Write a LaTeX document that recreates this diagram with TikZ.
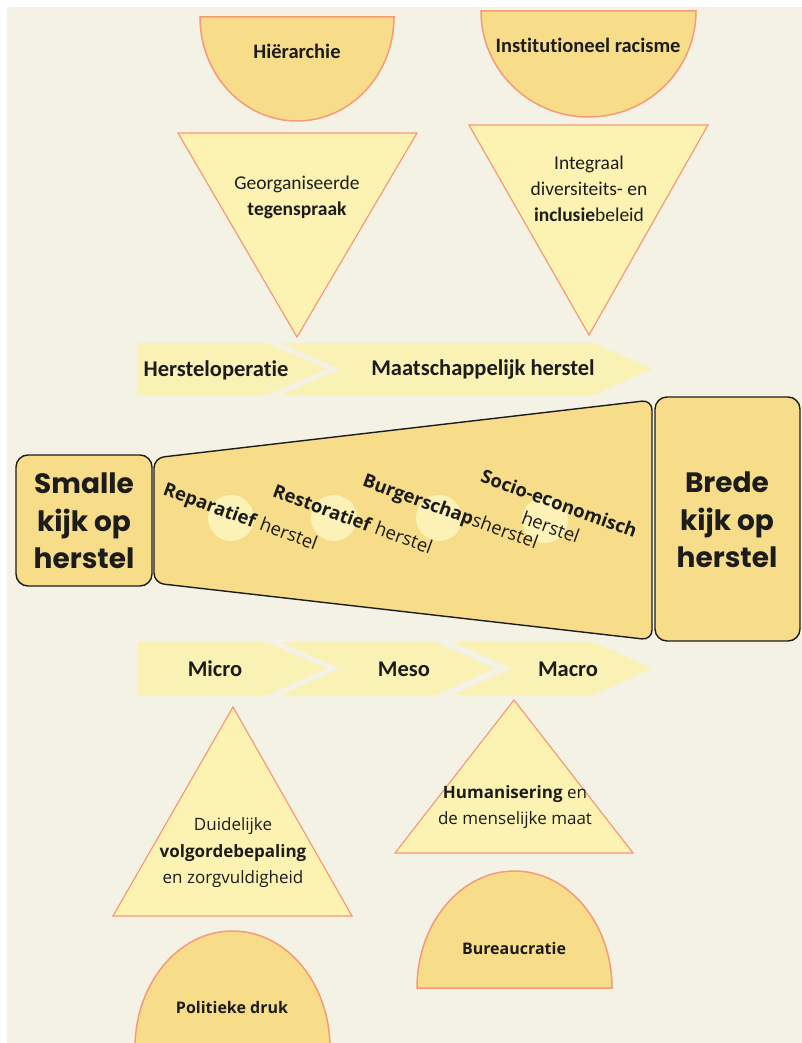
\documentclass[tikz,border=0pt]{standalone}
\usepackage{fontspec}
\setmainfont{Carlito}[Ligatures=NoCommon]
\newfontfamily\opensans{Open Sans}
\newfontfamily\poppins{Poppins}
\definecolor{creambg}{HTML}{F4F1E5}
\definecolor{domefill}{HTML}{F7DD8A}
\definecolor{trifill}{HTML}{FCF3B3}
\definecolor{salmon}{HTML}{F69A78}
\definecolor{bandfill}{HTML}{FAF2B5}
\definecolor{glowcol}{HTML}{FCF2B8}
\definecolor{ink}{HTML}{1C1C1C}
\begin{document}
\begin{tikzpicture}[x=1pt,y=1pt,
        dome/.style={draw=salmon,fill=domefill,line width=1.5pt},
        tri/.style={draw=salmon,fill=trifill,line width=1.2pt},
        band/.style={fill=bandfill},
        boxed/.style={draw=ink,fill=domefill,line width=1.4pt,rounded corners=12pt},
        glow/.style={fill=glowcol},
        domelbl/.style={inner sep=0,text=ink,font=\bfseries\fontsize{20.5}{24}\selectfont},
        bandlbl/.style={inner sep=0,text=ink,font=\bfseries\fontsize{22.5}{25}\selectfont},
        trilbl/.style={inner sep=0,text=ink,align=center,font=\fontsize{19.5}{26}\selectfont},
        lowlbl/.style={inner sep=0,text=ink,align=center,font=\opensans\fontsize{17}{26.5}\selectfont},
        bigbox/.style={inner sep=0,text=ink,align=center,font=\poppins\bfseries\fontsize{28}{37.5}\selectfont},
        slant/.style={inner sep=0,text=ink,rotate=-20,align=center,font=\opensans\fontsize{18.5}{25}\selectfont}
      ]
      \useasboundingbox (0,0) rectangle (802,-1043);
      \fill[white] (0,0) rectangle (802,-1043);
      \fill[creambg] (7,-7) rectangle (802,-1043);

      \draw[dome] (200,-17) -- (394,-17) arc[start angle=0,end angle=-180,x radius=97,y radius=104] -- cycle;
      \draw[dome] (481,-11) -- (696,-11) arc[start angle=0,end angle=-180,x radius=107.5,y radius=106] -- cycle;
      \node[domelbl] (hierarchie) at (297,-51) {Hiërarchie};
      \node[domelbl] (racisme) at (588,-45) {Institutioneel racisme};

      \draw[tri] (178,-133) -- (417,-133) -- (297,-337) -- cycle;
      \draw[tri] (469,-125) -- (708,-125) -- (589,-335) -- cycle;
      \node[trilbl] (tegenspraak) at (297,-197) {Georganiseerde\\\textbf{tegenspraak}};
      \node[trilbl] (beleid) at (589,-189) {Integraal\\diversiteits- en\\\textbf{inclusie}beleid};

      \fill[band] (137,-343) -- (266,-343) -- (327,-369) -- (266,-395) -- (137,-395) -- cycle;
      \fill[band] (281,-343) -- (593,-343) -- (652,-369) -- (593,-395) -- (281,-395) -- (340,-369) -- cycle;
      \node[bandlbl] (herstelop) at (216,-370) {Hersteloperatie};
      \node[bandlbl] (maatsch) at (483,-370) {Maatschappelijk herstel};

      \draw[boxed] (16,-455) rectangle (152,-586);
      \draw[boxed,rounded corners=10pt] (154,-458) -- (652,-400) -- (652,-640) -- (154,-583) -- cycle;
      \draw[boxed] (655,-397) rectangle (800,-641);
      \node[bigbox] (smalle) at (84,-521) {Smalle\\kijk op\\herstel};
      \node[bigbox] (brede) at (727,-520) {Brede\\kijk op\\herstel};

      \fill[glow] (231,-518) circle[radius=23];
      \fill[glow] (334,-518) circle[radius=23];
      \fill[glow] (439,-518) circle[radius=23];
      \fill[glow] (545,-520) circle[radius=23];
      \node[slant] (reparatief) at (240,-518) {\textbf{Reparatief} herstel};
      \node[slant] (restoratief) at (353,-519) {\textbf{Restoratief} herstel};
      \node[slant] (burgerschap) at (450,-513) {\textbf{Burgerschap}sherstel};
      \node[slant] (socio) at (555,-515) {\textbf{Socio-economisch}\\herstel};

      \fill[band] (137,-642) -- (266,-642) -- (327,-668.5) -- (266,-695) -- (137,-695) -- cycle;
      \fill[band] (281,-642) -- (435,-642) -- (494,-668.5) -- (435,-695) -- (281,-695) -- (340,-668.5) -- cycle;
      \fill[band] (453,-642) -- (593,-642) -- (652,-668.5) -- (593,-695) -- (453,-695) -- (512,-668.5) -- cycle;
      \node[bandlbl] (micro) at (215,-669) {Micro};
      \node[bandlbl] (meso) at (404,-669) {Meso};
      \node[bandlbl] (macro) at (568,-669) {Macro};

      \draw[tri] (233,-707) -- (352,-916) -- (113,-916) -- cycle;
      \draw[tri] (514,-700) -- (633,-853) -- (395,-853) -- cycle;
      \node[lowlbl] (volgorde) at (233,-853) {Duidelijke\\\textbf{volgordebepaling}\\en zorgvuldigheid};
      \node[lowlbl] (humanisering) at (515,-807) {\textbf{Humanisering} en\\de menselijke maat};

      \draw[dome] (417,-988) arc[start angle=180,end angle=0,x radius=97.5,y radius=117] -- cycle;
      \draw[dome] (135,-1048) arc[start angle=180,end angle=0,x radius=97.5,y radius=117] -- cycle;
      \node[lowlbl,font=\opensans\bfseries\fontsize{16}{20}\selectfont] (bureaucratie) at (514,-948) {Bureaucratie};
      \node[lowlbl,font=\opensans\bfseries\fontsize{16}{20}\selectfont] (politiek) at (232,-1007) {Politieke druk};
    \end{tikzpicture}
\end{document}
